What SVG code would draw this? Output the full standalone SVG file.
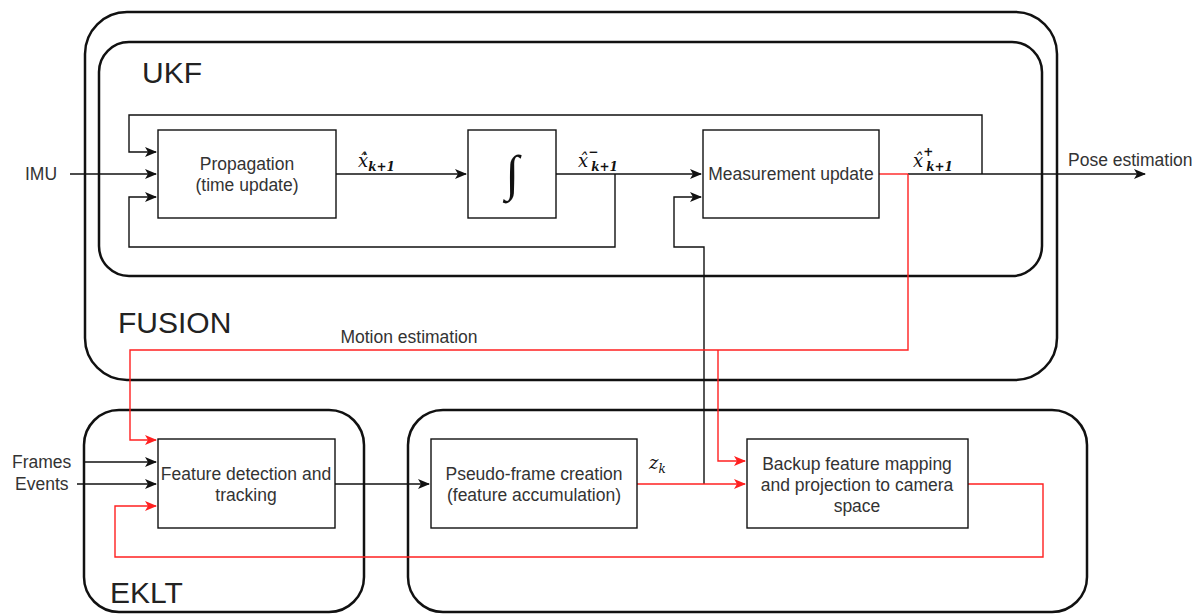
<svg xmlns="http://www.w3.org/2000/svg" width="1203" height="614" viewBox="0 0 1203 614">
<style>
.container{fill:none;stroke:#111;stroke-width:2.5}
.box{fill:#fff;stroke:#111;stroke-width:1.4}
.lbl{font-family:"Liberation Sans",Arial,sans-serif;font-size:17.5px;fill:#333;text-anchor:middle}
.big{font-family:"Liberation Sans",Arial,sans-serif;font-size:30px;fill:#222}
.m{font-family:"DejaVu Serif","Liberation Serif",serif;font-size:18px;fill:#111;font-style:italic}
.sub{font-size:12px;font-weight:bold}
.k{fill:none;stroke:#111;stroke-width:1.4}
.r{fill:none;stroke:#ff2020;stroke-width:1.4}
</style>
<defs>
<marker id="ak" markerWidth="12" markerHeight="10" refX="11" refY="5" orient="auto" markerUnits="userSpaceOnUse">
<path d="M0,0 L12,5 L0,10 L3,5 z" fill="#111"/>
</marker>
<marker id="ar" markerWidth="12" markerHeight="10" refX="11" refY="5" orient="auto" markerUnits="userSpaceOnUse">
<path d="M0,0 L12,5 L0,10 L3,5 z" fill="#ff2020"/>
</marker>
</defs>
<g id="fusion">
<rect class="container" x="85" y="12" width="972" height="368" rx="42"/>
<text class="big" x="118" y="333">FUSION</text>
</g>
<g id="ukf">
<rect class="container" x="99" y="42" width="943" height="234" rx="30"/>
<text class="big" x="142" y="83">UKF</text>
</g>
<g id="eklt">
<rect class="container" x="84" y="410" width="280" height="202" rx="35"/>
<text class="big" x="110" y="603">EKLT</text>
</g>
<g id="frontend">
<rect class="container" x="408" y="410" width="679" height="202" rx="35"/>
</g>
<g id="connectors">
<path class="k" d="M70,174 H156" marker-end="url(#ak)"/>
<path class="k" d="M982,174 V115 H129 V152 H156" marker-end="url(#ak)"/>
<path class="k" d="M615,174 V247 H129 V197 H156" marker-end="url(#ak)"/>
<path class="k" d="M336,174 H466" marker-end="url(#ak)"/>
<path class="k" d="M556,174 H701" marker-end="url(#ak)"/>
<path class="k" d="M704,484 V247 H674 V197 H701" marker-end="url(#ak)"/>
<path class="r" d="M879,174 H908"/>
<path class="k" d="M908,174 H1145" marker-end="url(#ak)"/>
<path class="r" d="M908,174 V350 H130 V440 H156" marker-end="url(#ar)"/>
<path class="r" d="M718,350 V461 H745" marker-end="url(#ar)"/>
<path class="k" d="M85,462 H156" marker-end="url(#ak)"/>
<path class="k" d="M77,484 H156" marker-end="url(#ak)"/>
<path class="k" d="M335,484 H429" marker-end="url(#ak)"/>
<path class="r" d="M637,484 H745" marker-end="url(#ar)"/>
<path class="r" d="M968,484 H1043 V557 H115 V506 H156" marker-end="url(#ar)"/>
<text class="lbl" x="25" y="180" style="text-anchor:start">IMU</text>
<text class="lbl" x="1068" y="166" style="text-anchor:start">Pose estimation</text>
<text class="lbl" x="409" y="343">Motion estimation</text>
<text class="lbl" x="12" y="468" style="text-anchor:start">Frames</text>
<text class="lbl" x="15" y="490" style="text-anchor:start">Events</text>
<text class="m" x="358" y="167">ẋ̂<tspan class="sub" dy="4">k+1</tspan></text>
<text class="m" x="578" y="167">x̂<tspan class="sub" dy="-11" style="font-style:normal">−</tspan><tspan class="sub" dx="-7" dy="15">k+1</tspan></text>
<text class="m" x="913" y="167">x̂<tspan class="sub" dy="-11" style="font-style:normal">+</tspan><tspan class="sub" dx="-7" dy="15">k+1</tspan></text>
<text class="m" x="649" y="469">z<tspan style="font-size:12px" dy="4">k</tspan></text>
</g>
<g id="propagation">
<rect class="box" x="158" y="130" width="178" height="88"/>
<text class="lbl" x="247" y="170">Propagation</text>
<text class="lbl" x="247" y="191">(time update)</text>
</g>
<g id="integrator">
<rect class="box" x="468" y="130" width="88" height="88"/>
<text x="512" y="190" style="font-family:'Liberation Serif',serif;font-style:italic;font-size:50px;fill:#111;text-anchor:middle">∫</text>
</g>
<g id="measurement">
<rect class="box" x="703" y="130" width="176" height="88"/>
<text class="lbl" x="791" y="180">Measurement update</text>
</g>
<g id="feature">
<rect class="box" x="158" y="439" width="177" height="89"/>
<text class="lbl" x="246" y="480">Feature detection and</text>
<text class="lbl" x="246" y="501">tracking</text>
</g>
<g id="pseudo">
<rect class="box" x="431" y="439" width="206" height="89"/>
<text class="lbl" x="534" y="480">Pseudo-frame creation</text>
<text class="lbl" x="534" y="501">(feature accumulation)</text>
</g>
<g id="backup">
<rect class="box" x="747" y="439" width="221" height="89"/>
<text class="lbl" x="857" y="470">Backup feature mapping</text>
<text class="lbl" x="857" y="491">and projection to camera</text>
<text class="lbl" x="857" y="512">space</text>
</g>
</svg>
